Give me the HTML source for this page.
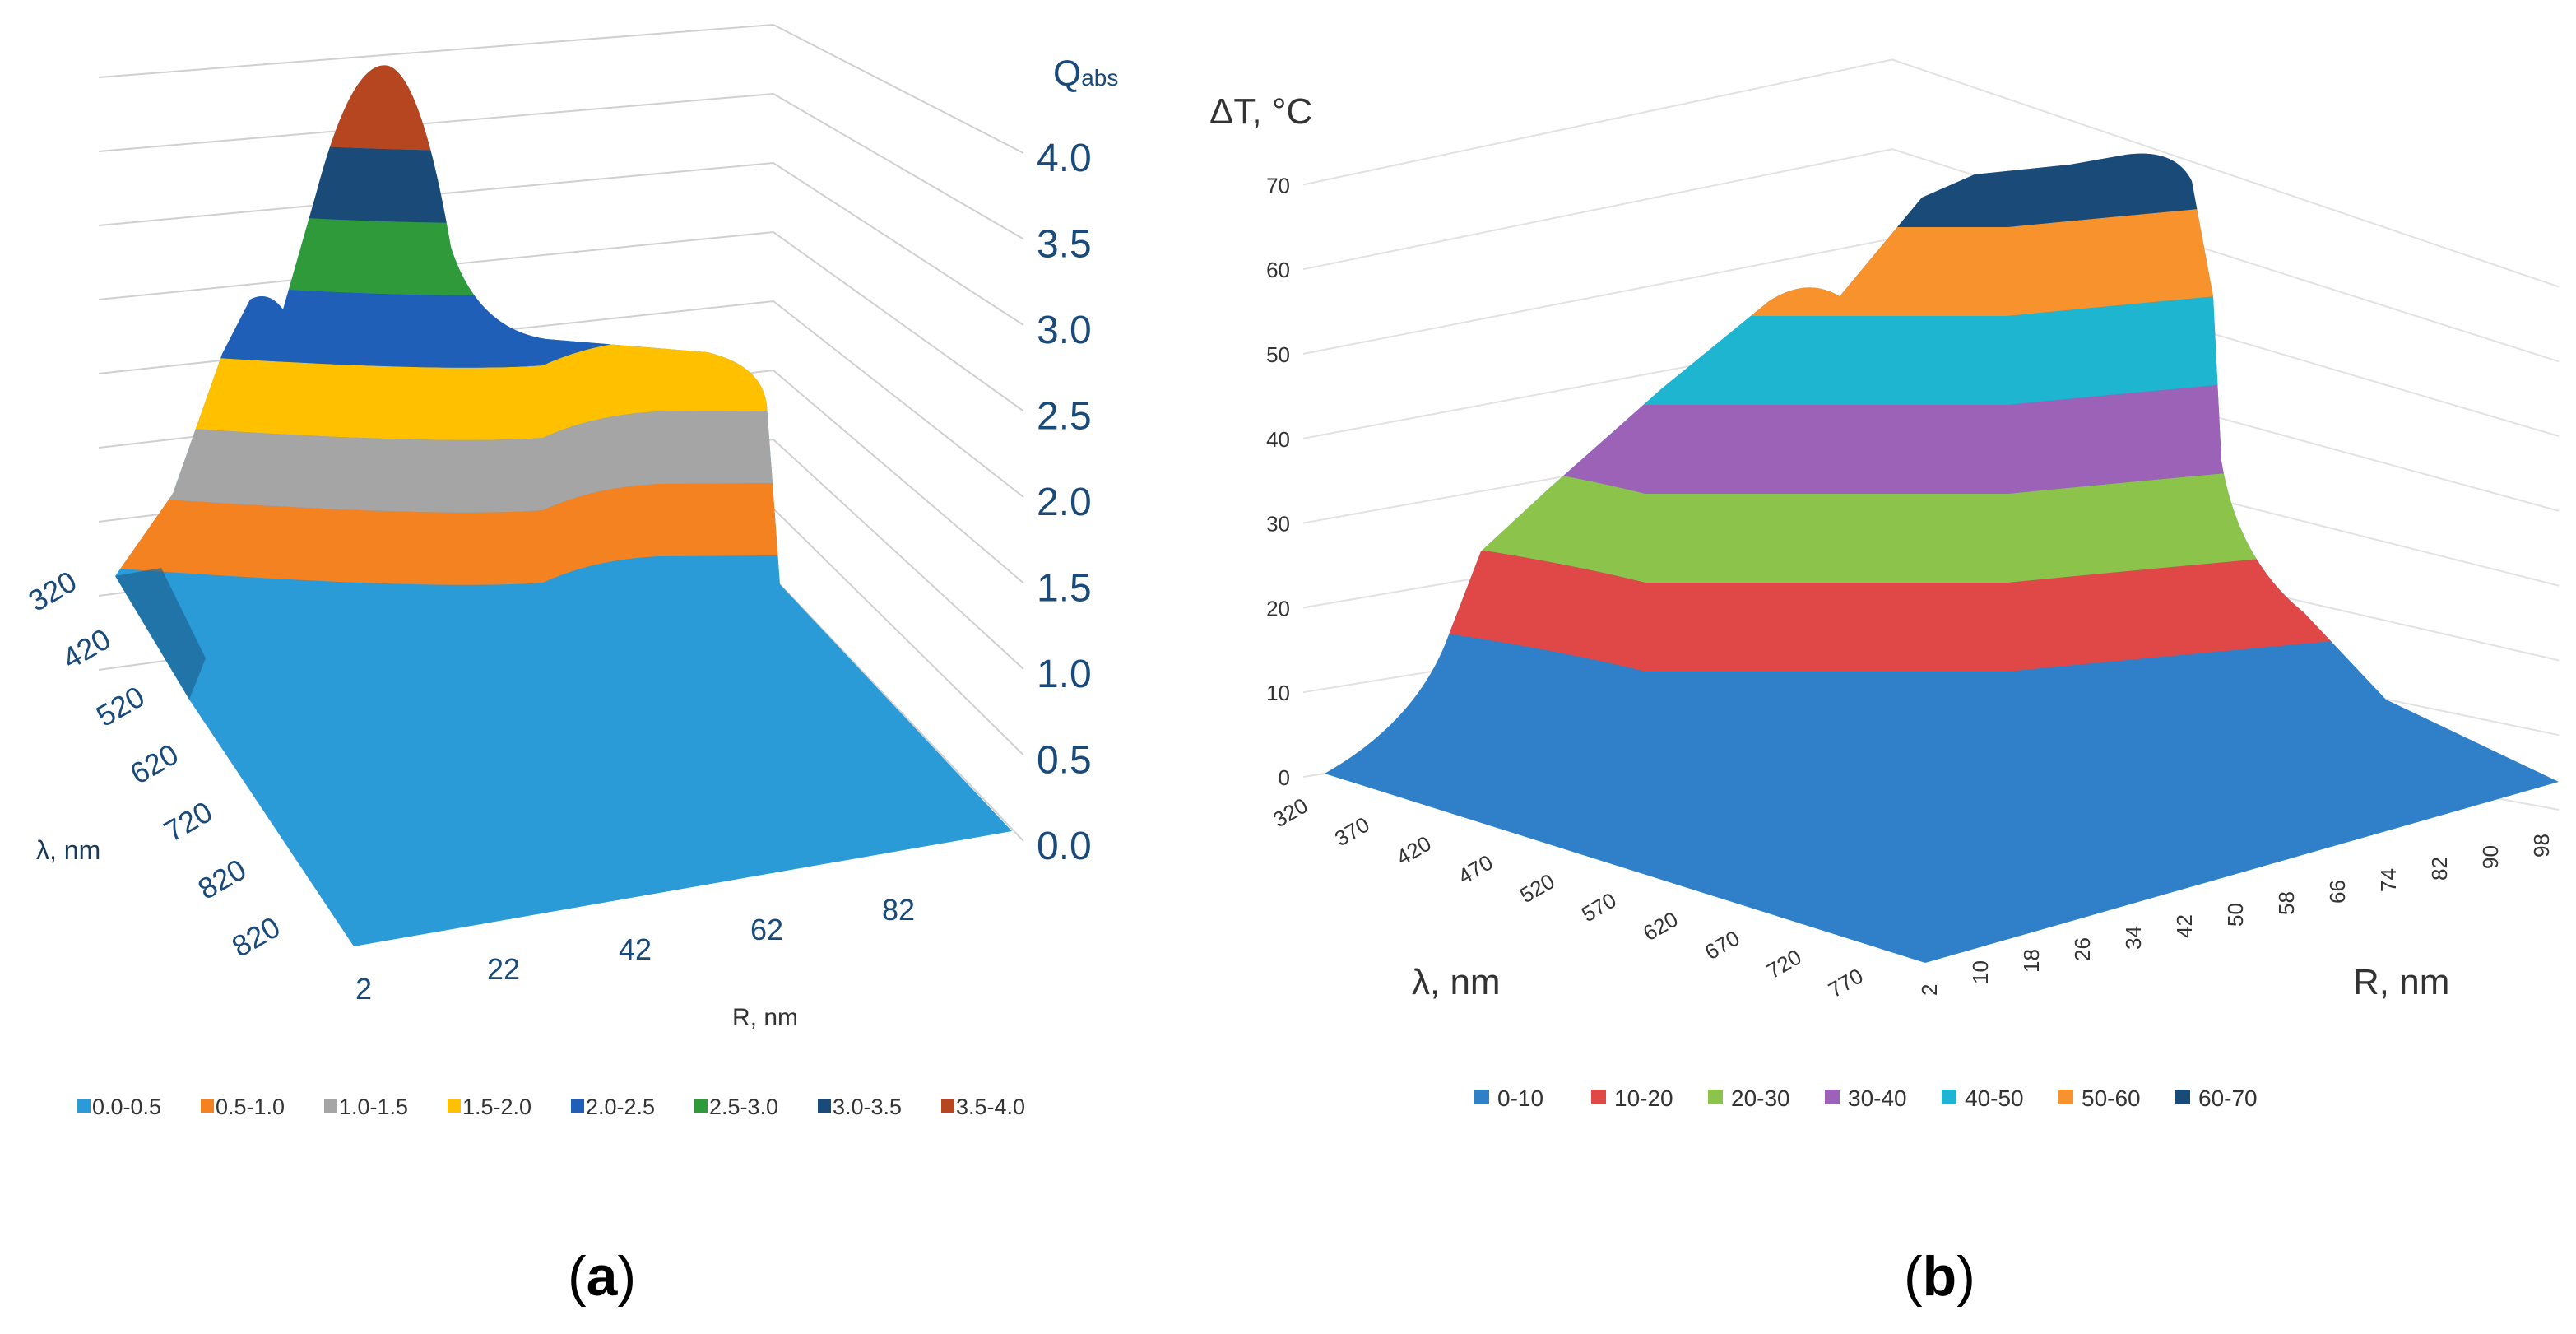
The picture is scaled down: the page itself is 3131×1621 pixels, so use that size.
<!DOCTYPE html>
<html><head><meta charset="utf-8">
<style>
html,body{margin:0;padding:0;background:#fff;}
svg{display:block;}
text{font-family:"Liberation Sans",sans-serif;}
</style></head>
<body>
<svg id="c" width="3131" height="1621" viewBox="0 0 1565.5 810.5" preserveAspectRatio="none" xmlns="http://www.w3.org/2000/svg">
<defs>
<clipPath id="clipA"><path d="M70,350 L105,300 L135,215 L152,182 Q163,176 172,188 L192,118 Q214,35 236,40 Q256,46 274,150 Q290,200 332,206 L430,214 Q463,222 466,246 L474,355 L615,505 L215,575 L115,425 Z"/></clipPath>
<clipPath id="clipB"><path d="M805,470 Q858,440 878,392 L900,335 L940,298 L1010,236 L1075,183 Q1098,168 1118,180 L1168,120 L1200,106 L1258,100 L1292,94 Q1322,90 1332,110 L1345,180 L1350,280 Q1360,340 1400,372 L1450,425 L1555,475 L1170,585 Z"/></clipPath>
</defs>
<g id="panelA"></g>
<g id="panelB"></g>
<text x="345" y="787" font-size="34" font-family="Liberation Serif">(<tspan font-weight="bold">a</tspan>)</text>
<text x="1157" y="787" font-size="34" font-family="Liberation Serif">(<tspan font-weight="bold">b</tspan>)</text>
</svg>
<script>
// ---- Panel A data ----
const aCategories = ["0.0-0.5","0.5-1.0","1.0-1.5","1.5-2.0","2.0-2.5","2.5-3.0","3.0-3.5","3.5-4.0"];
const aColors = ["#2b9bd8","#f58220","#a5a5a5","#ffc000","#1f5fb8","#2e9a3a","#1a4a78","#b5461f"];
const aBandLow = [0.0,0.5,1.0,1.5,2.0,2.5,3.0,3.5];
const aZTicks = [0.0,0.5,1.0,1.5,2.0,2.5,3.0,3.5,4.0];
const aLambdaTicks = ["320","420","520","620","720","820","820"];
const aRTicks = ["2","22","42","62","82"];
// ---- Panel B data ----
const bCategories = ["0-10","10-20","20-30","30-40","40-50","50-60","60-70"];
const bColors = ["#2f80c8","#e04848","#8cc34a","#9b62b8","#1db5d0","#f7922c","#1a4a78"];
const bBandLow = [0,10,20,30,40,50,60];
const bZTicks = [0,10,20,30,40,50,60,70];
const bLambdaTicks = ["320","370","420","470","520","570","620","670","720","770"];
const bRTicks = ["2","10","18","26","34","42","50","58","66","74","82","90","98"];

const NS="http://www.w3.org/2000/svg";
function mk(tag,attrs,parent){const e=document.createElementNS(NS,tag);for(const k in attrs)e.setAttribute(k,attrs[k]);parent.appendChild(e);return e;}
const A=document.getElementById('panelA'), B=document.getElementById('panelB');

// axis functions
const aSurfY = z => 392 - z*88;
const aTickY = z => 513 - z*104.5;
const aCornerY = z => 351 - z*84;
const aLeftY = z => 407 - z*90;
const bSurfY = z => 462 - z*5.4;
const bTickY = z => 472 - z*5.14;

// boundary curve (forward) and reverse for band polygons
function aFwd(y){return `M0,${y-8} Q250,${y+12} 330,${y+6} Q360,${y-8} 400,${y-10} L700,${y-12}`;}
function aRev(y){return `L700,${y-12} L400,${y-10} Q360,${y-8} 330,${y+6} Q250,${y+12} 0,${y-8} Z`;}
function bFwd(y){return `M700,${y-45} Q900,${y-25} 1000,${y} L1220,${y} Q1300,${y-8} 1600,${y-35}`;}
function bRev(y){return `L1600,${y-35} Q1300,${y-8} 1220,${y} L1000,${y} Q900,${y-25} 700,${y-45} Z`;}

// Panel A gridlines
aZTicks.forEach(z=>{
  const g=mk('polyline',{points:`60,${aLeftY(z)} 470,${aCornerY(z)} 622,${aTickY(z)-2}`,fill:'none',stroke:'#d0d0d0','stroke-width':1},A);
  
  
  const t=mk('text',{x:630,y:aTickY(z)+9,'font-size':24,fill:'#1a4a7a'},A);
  t.textContent=z.toFixed(1);
  
  
});
const qa=mk('text',{x:640,y:52,'font-size':22,fill:'#1a4a7a'},A);
qa.innerHTML='Q<tspan font-size="14">abs</tspan>';



// Panel A surface
const sa=mk('g',{'clip-path':'url(#clipA)'},A);


mk('rect',{x:0,y:0,width:700,height:700,fill:aColors[0]},sa);
aBandLow.forEach((z,i)=>{
  if(i===0)return;
  const yb=aSurfY(z);
  const top = i===aBandLow.length-1 ? `L700,0 L0,0 Z` : aRev(aSurfY(z+0.5));
  const r=mk('path',{d:aFwd(yb)+' '+top,fill:aColors[i]},sa);
  
  
});
mk('path',{d:'M70,350 L115,425 L125,400 L98,345 Z',fill:'#1a5a88',opacity:0.6},sa);

// Panel A lambda labels
aLambdaTicks.forEach((l,i)=>{
  const x=22+i*20.6, y=372+i*35;
  const t=mk('text',{x:x,y:y,'font-size':18,fill:'#1a4a7a',transform:`rotate(-30 ${x} ${y})`},A);
  t.textContent=l;
  
  
});
const la=mk('text',{x:22,y:522,'font-size':16,fill:'#1a3a5a'},A);la.textContent='λ, nm';

aRTicks.forEach((l,i)=>{
  const t=mk('text',{x:216+i*80,y:607-i*12,'font-size':18,fill:'#1a4a7a'},A);
  t.textContent=l;
  
  
});
const ra=mk('text',{x:445,y:623,'font-size':15,fill:'#333'},A);ra.textContent='R, nm';

aCategories.forEach((c,i)=>{
  const x=48+i*75;
  const g=mk('g',{},A);
  
  
  mk('rect',{x:x-1,y:668,width:8,height:8,fill:aColors[i]},g);
  const t=mk('text',{x:x+8,y:677,'font-size':13.5,fill:'#333'},g);t.textContent=c;
});

// Panel B gridlines
bZTicks.forEach(z=>{
  const y=bTickY(z);
  const g=mk('polyline',{points:`792,${y} 1150,${y-55-z*0.3} 1555,${y+20+z*0.6}`,fill:'none',stroke:'#e2e2e2','stroke-width':1},B);
  
  
  const t=mk('text',{x:784,y:y+5,'font-size':13,fill:'#333','text-anchor':'end'},B);
  t.textContent=z;
  
  
});
const tb=mk('text',{x:735,y:75,'font-size':22,fill:'#333'},B);tb.textContent='ΔT, °C';


// Panel B surface
const sb=mk('g',{'clip-path':'url(#clipB)'},B);


mk('rect',{x:700,y:0,width:900,height:700,fill:bColors[0]},sb);
bBandLow.forEach((z,i)=>{
  if(i===0)return;
  const top = i===bBandLow.length-1 ? `L1600,0 L700,0 Z` : bRev(bSurfY(z+10));
  const r=mk('path',{d:bFwd(bSurfY(z))+' '+top,fill:bColors[i]},sb);
  
  
});
bLambdaTicks.forEach((l,i)=>{
  const x=777+i*37.5, y=503+i*11.5;
  const t=mk('text',{x:x,y:y,'font-size':13,fill:'#333',transform:`rotate(-30 ${x} ${y})`},B);
  t.textContent=l;
  
  
});
const lb=mk('text',{x:858,y:604,'font-size':22,fill:'#333'},B);lb.textContent='λ, nm';

bRTicks.forEach((l,i)=>{
  const x=1177+i*31, y=605-i*7;
  const t=mk('text',{x:x,y:y,'font-size':13,fill:'#333',transform:`rotate(-90 ${x} ${y})`},B);
  t.textContent=l;
  
  
});
const rb=mk('text',{x:1430,y:604,'font-size':22,fill:'#333'},B);rb.textContent='R, nm';

bCategories.forEach((c,i)=>{
  const x=896+i*71;
  const g=mk('g',{},B);
  
  
  mk('rect',{x:x,y:662,width:9,height:9,fill:bColors[i]},g);
  const t=mk('text',{x:x+14,y:672,'font-size':14,fill:'#333'},g);t.textContent=c;
});
</script>
</body></html>
